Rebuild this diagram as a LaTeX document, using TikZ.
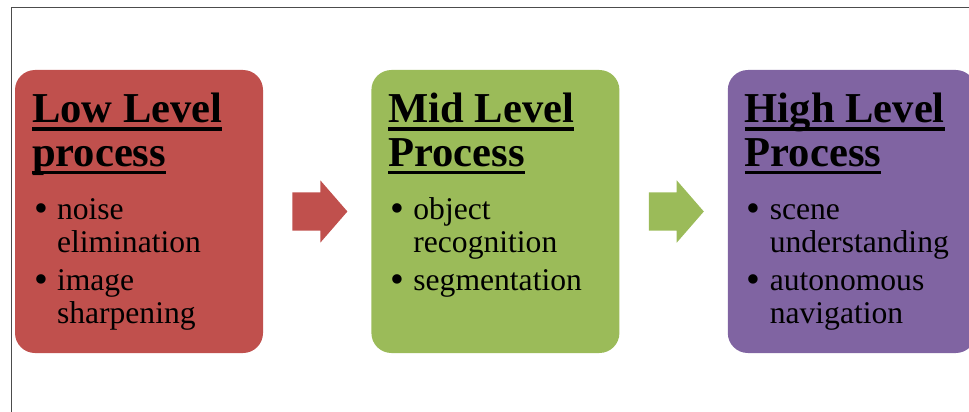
\documentclass[tikz,border=0pt]{standalone}
\usepackage{fontspec}
\setmainfont{Liberation Serif}
\usetikzlibrary{positioning, shapes.arrows}
\definecolor{lowred}{HTML}{C0504D}
\definecolor{midgreen}{HTML}{9BBB59}
\definecolor{highpurple}{HTML}{8064A2}
\newcommand{\ulbox}[1]{\setbox0\hbox{#1}\rlap{\rule[-8pt]{\wd0}{3.5pt}}\box0}
\newcommand{\bitem}[1]{\noindent\hangindent=25pt\hangafter=1\makebox[25pt][l]{\hspace{2pt}\raisebox{-1.5pt}{\scalebox{1.25}{\textbullet}}}#1\par\vspace{6pt}}

\begin{document}
\begin{tikzpicture}[
  x=1pt, y=-1pt,
  stage/.style={rectangle, rounded corners=20pt, minimum width=248pt, minimum height=283pt, inner sep=0pt},
  stagetitle/.style={anchor=base west, inner sep=0pt, align=left, font=\fontsize{42.6}{43.5}\selectfont\bfseries},
  stagelist/.style={anchor=base west, inner sep=0pt, text width=230pt, align=left, font=\fontsize{31.6}{32.5}\selectfont},
  flowarrow/.style={single arrow, inner sep=0pt, inner ysep=19pt, minimum height=55pt, single arrow head extend=12pt, single arrow tip angle=98, single arrow head indent=0pt}
]
\useasboundingbox (0,0) rectangle (969,412);
\draw[black!70, line width=1pt] (11,412) -- (11,8) -- (969,8);

\node[stage, fill=lowred] (low) at (139,211.5) {};
\node[stage, fill=midgreen, right=108pt of low] (mid) {};
\node[stage, fill=highpurple, right=108pt of mid] (high) {};

\node[flowarrow, fill=lowred, right=29pt of low] (lowarrow) {};
\node[flowarrow, fill=midgreen, right=29pt of mid] (midarrow) {};

% base anchor sits on the last title line
\node[stagetitle] (lowtitle) at ([xshift=17pt, yshift=-96.2pt]low.north west) {\ulbox{Low Level}\\\ulbox{process}};
\node[stagetitle] (midtitle) at ([xshift=17pt, yshift=-96.2pt]mid.north west) {\ulbox{Mid Level}\\\ulbox{Process}};
\node[stagetitle] (hightitle) at ([xshift=17pt, yshift=-96.2pt]high.north west) {\ulbox{High Level}\\\ulbox{Process}};

\node[stagelist] (lowlist) at ([xshift=17pt, yshift=-150pt]low.north west)
  {\bitem{noise\newline elimination}\bitem{image\newline sharpening}};
\node[stagelist] (midlist) at ([xshift=17pt, yshift=-150pt]mid.north west)
  {\bitem{object\newline recognition}\bitem{segmentation}};
\node[stagelist] (highlist) at ([xshift=17pt, yshift=-150pt]high.north west)
  {\bitem{scene\newline understanding}\bitem{autonomous\newline navigation}};
\end{tikzpicture}
\end{document}
